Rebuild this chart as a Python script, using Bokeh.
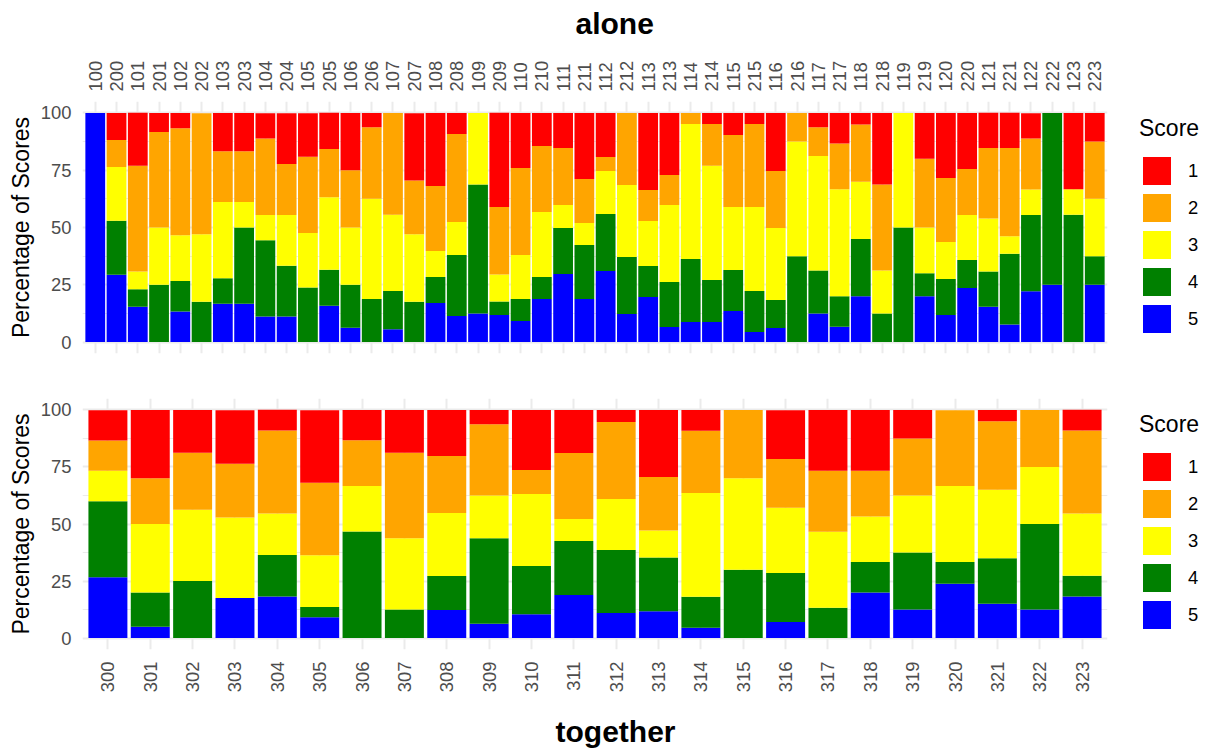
import math
from bokeh.plotting import figure
from bokeh.models import (FactorRange, Range1d, FixedTicker, Legend, LegendItem,
                          Title, ColumnDataSource)
from bokeh.layouts import column
from bokeh.embed import file_html
from bokeh.resources import INLINE

# ---------------- data ----------------
score_labels = ["1", "2", "3", "4", "5"]
score_colors = ["#FF0000", "#FFA500", "#FFFF00", "#008000", "#0000FF"]

alone_ids = ["100", "200", "101", "201", "102", "202", "103", "203", "104", "204",
             "105", "205", "106", "206", "107", "207", "108", "208", "109", "209",
             "110", "210", "111", "211", "112", "212", "113", "213", "114", "214",
             "115", "215", "116", "216", "117", "217", "118", "218", "119", "219",
             "120", "220", "121", "221", "122", "222", "123", "223"]
# percentage of each score per subject (alone)
alone_s1 = [0, 11.8, 23.1, 8.3, 6.7, 0, 16.7, 16.7, 11.1, 22.2,
            19.0, 15.8, 25, 6.25, 0, 29.4, 31.9, 9.2, 0, 41.2,
            24.0, 14.4, 15.3, 28.8, 19.2, 0, 33.6, 27.1, 0, 4.8,
            9.6, 4.8, 25.3, 0, 6.25, 13.3, 5, 31.25, 0, 20,
            28.4, 24.5, 15.4, 15.4, 11.1, 0, 33.3, 12.5]
alone_s2 = [0, 11.8, 46.2, 41.7, 46.7, 52.9, 22.2, 22.2, 33.3, 22.2,
            33.3, 21.1, 25, 31.25, 44.4, 23.5, 28.4, 38.4, 0, 29.4,
            38.0, 28.8, 24.9, 19.2, 6.1, 31.4, 13.6, 13.1, 4.8, 18.3,
            31.4, 36.2, 24.9, 12.5, 12.5, 20, 25, 37.5, 0, 30,
            27.9, 20.0, 30.8, 38.5, 22.2, 0, 0, 25]
alone_s3 = [0, 23.5, 7.7, 25, 20, 29.4, 33.3, 11.1, 11.1, 22.2,
            23.8, 31.6, 25, 43.75, 33.3, 29.4, 11.3, 14.4, 31.25, 11.8,
            19.2, 28.4, 10.0, 9.6, 18.8, 31.5, 19.6, 33.6, 59.0, 49.8,
            27.6, 36.7, 31.5, 50, 50, 46.7, 25, 18.75, 50, 20,
            16.2, 19.7, 23.1, 7.7, 11.1, 0, 11.1, 25]
alone_s4 = [0, 23.5, 7.7, 25, 13.3, 17.6, 11.1, 33.3, 33.3, 22.2,
            23.8, 15.8, 18.75, 18.75, 16.7, 17.6, 11.4, 26.6, 56.25, 5.9,
            9.6, 9.6, 20.1, 23.6, 24.9, 24.9, 13.5, 19.6, 27.5, 18.4,
            17.9, 17.9, 12.2, 37.5, 18.75, 13.3, 25, 12.5, 50, 10,
            15.7, 12.2, 15.4, 30.8, 33.3, 75, 55.6, 12.5]
alone_s5 = [100, 29.4, 15.4, 0, 13.3, 0, 16.7, 16.7, 11.1, 11.1,
            0, 15.8, 6.25, 0, 5.6, 0, 17.0, 11.4, 12.5, 11.8,
            9.2, 18.8, 29.7, 18.8, 31.0, 12.2, 19.7, 6.6, 8.7, 8.7,
            13.5, 4.4, 6.1, 0, 12.5, 6.7, 20, 0, 0, 20,
            11.8, 23.6, 15.4, 7.7, 22.2, 25, 0, 25]

together_ids = [str(i) for i in range(300, 324)]
together_s1 = [13.3, 30, 18.75, 23.5, 9.1, 31.8, 13.3, 18.75, 20.2, 6.25,
               26.3, 18.9, 5.3, 29.4, 9.1, 0, 21.4, 26.7, 26.7, 12.5,
               0, 5, 0, 9.1]
together_s2 = [13.3, 20, 25, 23.5, 36.4, 31.8, 20, 37.5, 25.0, 31.25,
               10.5, 28.9, 33.7, 23.5, 27.3, 30, 21.4, 26.7, 20, 25,
               33.3, 30, 25, 36.4]
together_s3 = [13.3, 30, 31.25, 35.3, 18.2, 22.7, 20, 31.25, 27.6, 18.75,
               31.6, 9.7, 22.4, 11.8, 45.5, 40, 28.6, 33.3, 20, 25,
               33.3, 30, 25, 27.3]
together_s4 = [33.3, 15, 25, 0, 18.2, 4.5, 46.7, 12.5, 14.9, 37.5,
               21.1, 23.6, 27.6, 23.5, 13.6, 30, 21.4, 13.3, 13.3, 25,
               9.5, 20, 37.5, 9.1]
together_s5 = [26.7, 5, 0, 17.6, 18.2, 9.1, 0, 0, 12.3, 6.25,
               10.5, 18.9, 11.0, 11.8, 4.5, 0, 7.1, 0, 20, 12.5,
               23.8, 15, 12.5, 18.2]

y_ticks = [0, 25, 50, 75, 100]
y_minor = [12.5, 37.5, 62.5, 87.5]

FONT = "Liberation Sans"
GRID = "#EBEBEB"
TICK = "#4D4D4D"


def make_panel(ids, s1, s2, s3, s4, s5, title_text, axis_loc, bar_w,
               frame_h, mb_top, mb_bottom, title_offset, gap):
    src = ColumnDataSource(dict(cat=ids, s1=s1, s2=s2, s3=s3, s4=s4, s5=s5))
    p = figure(frame_width=1025, frame_height=frame_h, output_backend="svg",
               toolbar_location=None, title=None,
               x_range=FactorRange(factors=ids, range_padding=0.1,
                                   range_padding_units="absolute"),
               y_range=Range1d(-5, 105), x_axis_location=axis_loc,
               min_border_left=82, min_border_right=100,
               min_border_top=mb_top, min_border_bottom=mb_bottom)
    rs = p.vbar_stack(["s5", "s4", "s3", "s2", "s1"], x="cat", width=bar_w,
                      source=src,
                      fill_color=[score_colors[4], score_colors[3], score_colors[2],
                                  score_colors[1], score_colors[0]],
                      line_color=None)
    # legend in order 1..5
    rmap = {"5": rs[0], "4": rs[1], "3": rs[2], "2": rs[3], "1": rs[4]}
    items = [LegendItem(label=s, renderers=[rmap[s]]) for s in score_labels]
    leg = Legend(items=items, title="Score", location=(32, 17),
                 glyph_width=35, glyph_height=35, spacing=2, label_standoff=14,
                 padding=6, margin=0, border_line_color=None,
                 background_fill_alpha=0,
                 title_text_font=FONT, title_text_font_size="23px",
                 title_text_font_style="normal", title_text_color="black",
                 title_standoff=11,
                 label_text_font=FONT, label_text_font_size="18.4px",
                 label_text_color="black")
    p.add_layout(leg, "right")

    p.outline_line_color = None
    p.xgrid.grid_line_color = GRID
    p.xgrid.grid_line_width = 2
    p.ygrid.grid_line_color = GRID
    p.ygrid.grid_line_width = 2
    p.ygrid.minor_grid_line_color = GRID
    p.ygrid.minor_grid_line_width = 1

    p.yaxis.ticker = FixedTicker(ticks=y_ticks, minor_ticks=y_minor)
    p.yaxis.axis_label = "Percentage of Scores"
    p.yaxis.axis_label_text_font = FONT
    p.yaxis.axis_label_text_font_size = "23px"
    p.yaxis.axis_label_text_font_style = "normal"
    p.yaxis.axis_label_text_color = "black"
    p.yaxis.axis_label_standoff = 4

    for ax in (p.xaxis, p.yaxis):
        ax.axis_line_color = None
        ax.major_tick_line_color = None
        ax.minor_tick_line_color = None
        ax.major_tick_out = 0
        ax.major_tick_in = 0
        ax.minor_tick_out = 0
        ax.major_label_text_font = FONT
        ax.major_label_text_font_size = "18.4px"
        ax.major_label_text_color = TICK
    p.yaxis.major_label_standoff = 11
    p.xaxis.major_label_standoff = 10 if axis_loc == "above" else 12
    p.xaxis.major_label_orientation = math.pi / 2

    # thin blank spacer between the axis labels and the panel title
    spacer = Title(text=" ", text_font_size="1px", text_color="white",
                   standoff=gap)
    p.add_layout(spacer, axis_loc)
    t = Title(text=title_text, align="left", offset=title_offset,
              text_font=FONT, text_font_size="30px", text_font_style="bold",
              text_color="black", standoff=0)
    p.add_layout(t, axis_loc)
    return p


p1 = make_panel(alone_ids, alone_s1, alone_s2, alone_s3, alone_s4, alone_s5,
                "alone", "above", 0.93, 252, 101, 22, 493, 15)
p2 = make_panel(together_ids, together_s1, together_s2, together_s3, together_s4,
                together_s5, "together", "below", 0.92, 251, 23, 100, 473, 14)

layout = column(p1, p2, spacing=0)
open("out.html", "w").write(file_html(layout, INLINE))
